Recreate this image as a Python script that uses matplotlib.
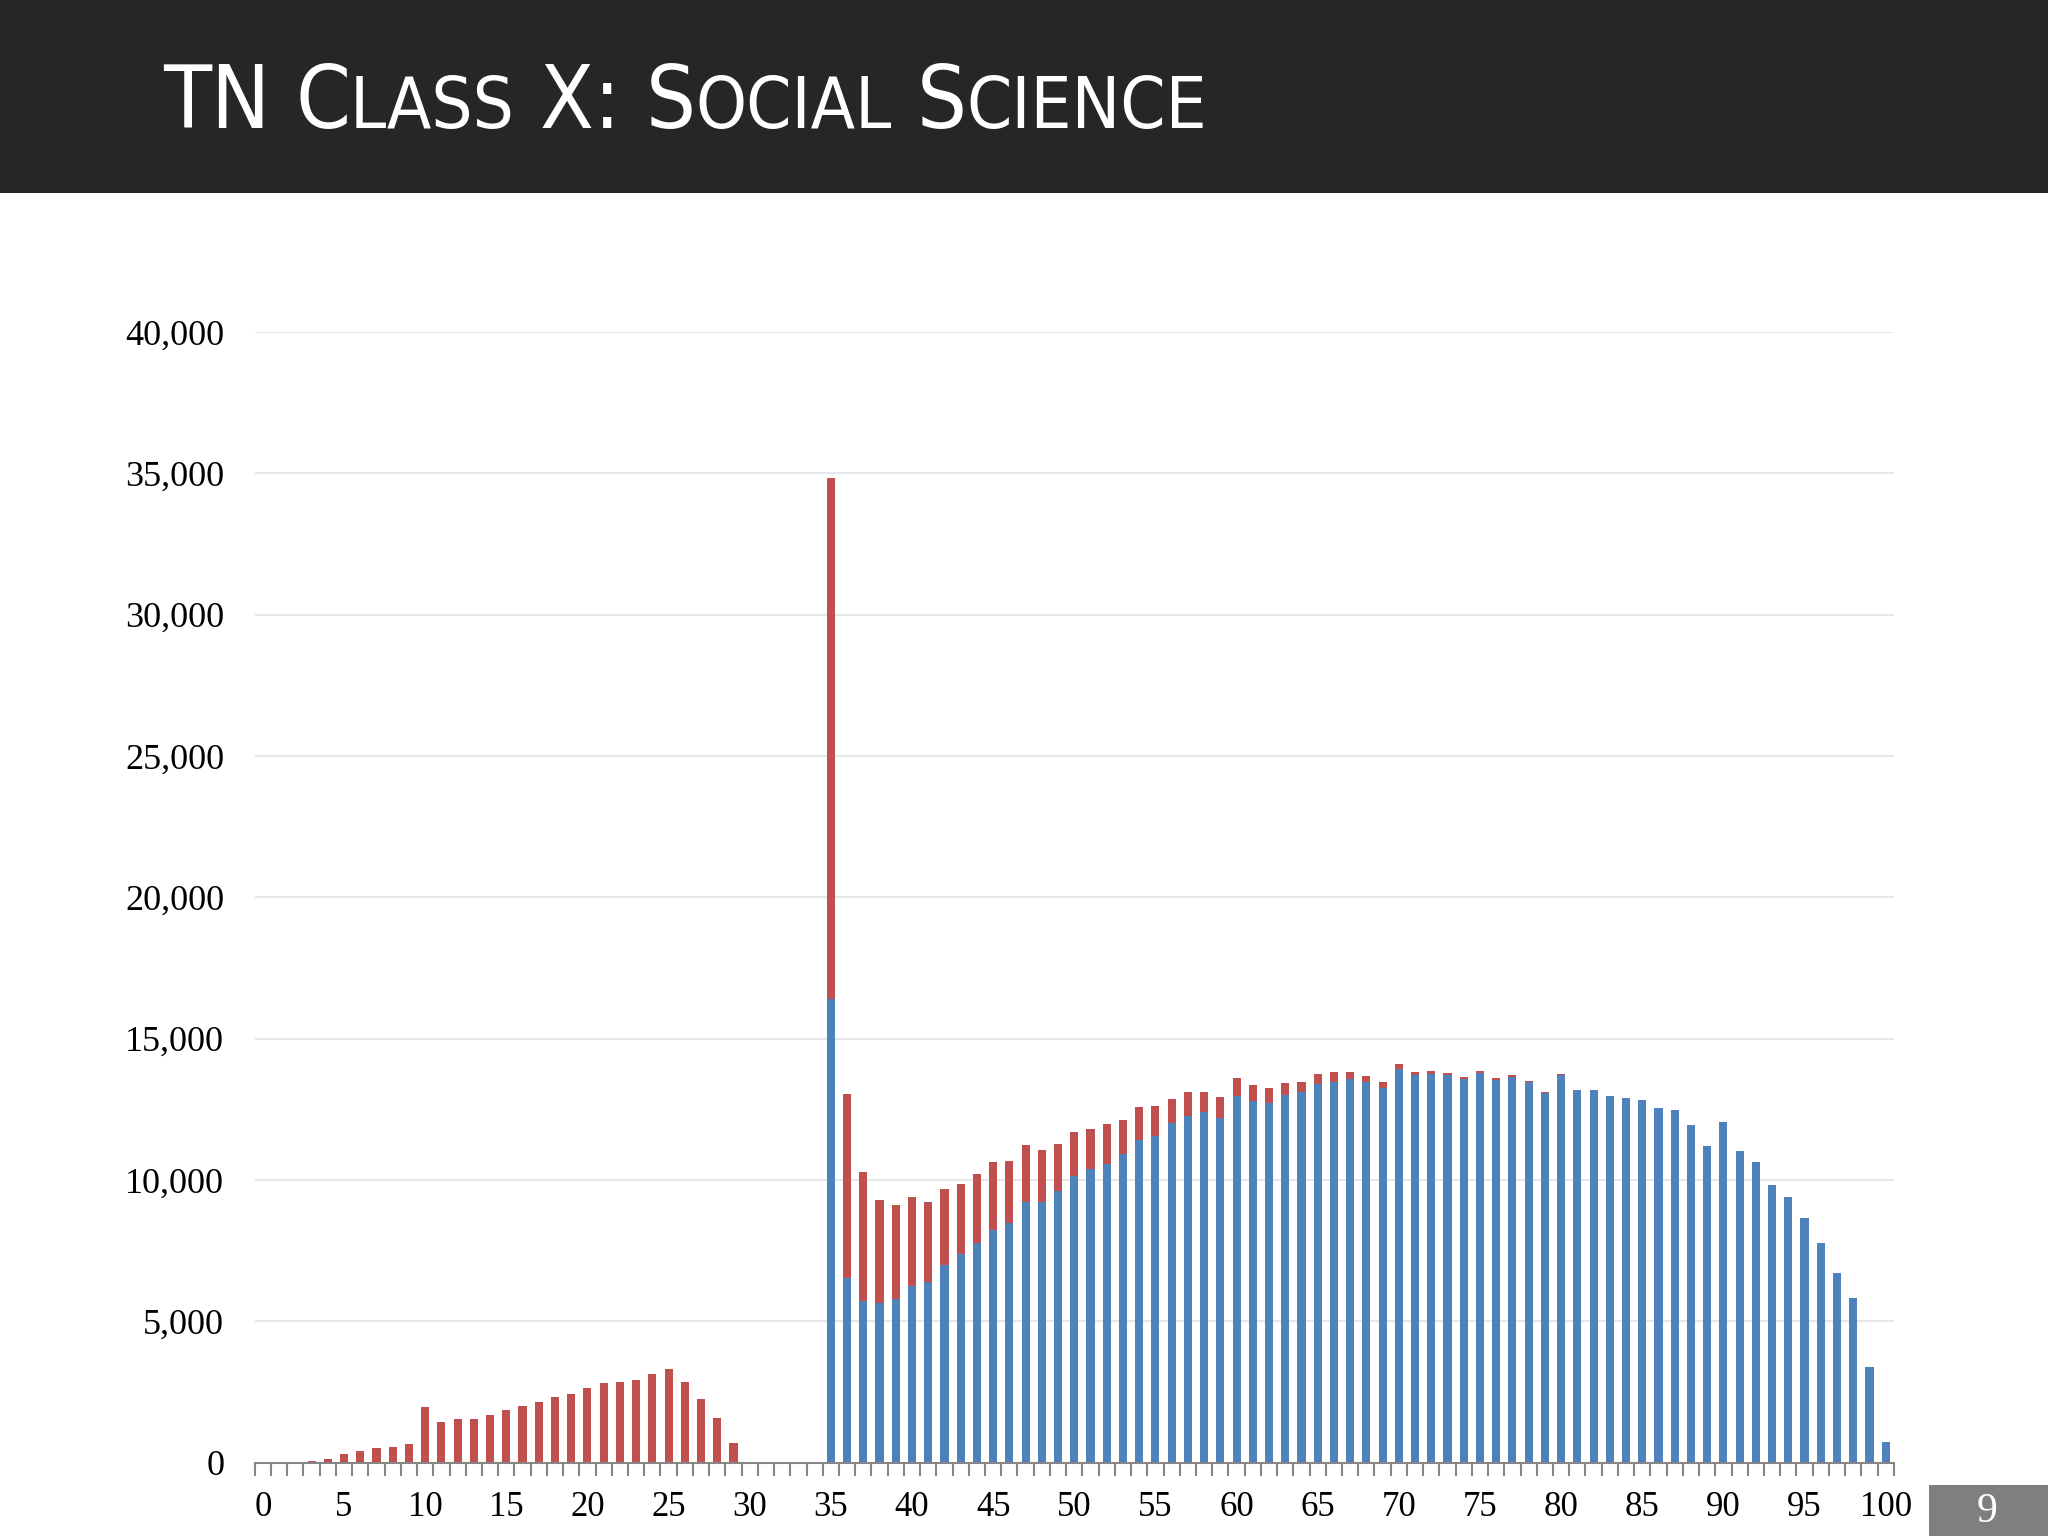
import matplotlib
matplotlib.use("Agg")
import matplotlib.pyplot as plt
from matplotlib import font_manager
from matplotlib.patches import Rectangle

# marks 0..100
marks = list(range(101))

# students below pass line (red) and above (blue)
red = [0, 0, 30, 80, 140, 330, 410, 520, 565, 660,
       1980, 1435, 1540, 1540, 1705, 1860, 2000, 2165, 2320, 2435,
       2650, 2835, 2860, 2940, 3130, 3330, 2870, 2250, 1580, 695,
       30, 0, 0, 0, 0,
       18430, 6500, 4530, 3670, 3310, 3160, 2840, 2670, 2500, 2430,
       2400, 2160, 1990, 1810, 1650, 1570, 1430, 1400, 1220, 1170,
       1050, 860, 850, 720, 720, 630, 550, 520, 430, 360,
       350, 330, 250, 200, 200, 190, 110, 110, 100, 70,
       60, 50, 60, 50, 20, 20, 0, 0, 0, 0,
       0, 0, 0, 0, 0, 0, 0, 0, 0, 0,
       0, 0, 0, 0, 0, 0]
blue = [0] * 35 + [
    16400, 6550, 5740, 5640, 5810, 6250, 6400, 7010, 7380, 7790,
    8240, 8500, 9240, 9240, 9630, 10130, 10380, 10570, 10920, 11430,
    11560, 12010, 12260, 12410, 12210, 12970, 12800, 12730, 13020, 13120,
    13410, 13480, 13580, 13480, 13270, 13930, 13720, 13740, 13700, 13560,
    13790, 13550, 13650, 13470, 13080, 13730, 13200, 13190, 12990, 12900,
    12830, 12540, 12470, 11960, 11220, 12040, 11040, 10640, 9840, 9400,
    8670, 7760, 6720, 5830, 3400, 750]

avail = {f.name for f in font_manager.fontManager.ttflist}
title_font = "Liberation Sans Narrow" if "Liberation Sans Narrow" in avail else "DejaVu Sans"

fig = plt.figure(figsize=(20.48, 15.36), dpi=100)
fig.patch.set_facecolor("white")

# dark header band
fig.add_artist(Rectangle((0, 1 - 193 / 1536), 1, 193 / 1536, transform=fig.transFigure,
                         facecolor="#262626", edgecolor="none"))

# small caps title built piece by piece
pieces = [("TN ", 63), ("C", 63), ("LASS", 52), (" X: ", 63), ("S", 63),
          ("OCIAL", 52), (" S", 63), ("CIENCE", 52)]
renderer = fig.canvas.get_renderer()
x = 163 / 2048
for txt, size in pieces:
    t = fig.text(x, 1 - 128 / 1536, txt, color="white", fontsize=size,
                 family=title_font, fontstretch="condensed",
                 va="baseline", ha="left")
    bb = t.get_window_extent(renderer=renderer)
    x += bb.width / fig.bbox.width

ax = fig.add_axes([0.1244, 0.0476, 0.8003, 0.7364])
ax.bar(marks, blue, width=0.5, color="#4F81BD", zorder=3)
ax.bar(marks, red, width=0.5, bottom=blue, color="#C0504D", zorder=3)

ax.set_xlim(-0.5, 100.5)
ax.set_ylim(0, 40000)
ax.set_yticks(range(0, 40001, 5000))
ax.set_yticklabels([f"{v:,}" for v in range(0, 40001, 5000)])
ax.grid(axis="y", color="#E3E3E3", linewidth=1.2, zorder=0)
ax.tick_params(axis="y", length=0, pad=22, labelsize=26)

# category boundary ticks, labels every 5
ax.set_xticks([i - 0.5 for i in range(102)])
ax.set_xticklabels([])
ax.set_xticks(list(range(0, 101, 5)), minor=True)
ax.set_xticklabels([str(v) for v in range(0, 101, 5)], minor=True)
ax.tick_params(axis="x", which="major", length=9, color="#868686", width=1.5)
ax.tick_params(axis="x", which="minor", length=0, pad=20, labelsize=25)

for lab in ax.get_xticklabels(minor=True) + ax.get_yticklabels():
    lab.set_family("Liberation Serif")

for s in ["top", "right", "left"]:
    ax.spines[s].set_visible(False)
ax.spines["bottom"].set_color("#868686")
ax.spines["bottom"].set_linewidth(1.5)
ax.spines["bottom"].set_zorder(4)

# page number box
fig.add_artist(Rectangle((1929 / 2048, 0), 119 / 2048, 51 / 1536, transform=fig.transFigure,
                         facecolor="#7F7F7F", edgecolor="none"))
fig.text(1987 / 2048, 24 / 1536, "9", color="white", fontsize=30,
         family="Liberation Serif", ha="center", va="center")

fig.savefig("out.png", dpi=100)
